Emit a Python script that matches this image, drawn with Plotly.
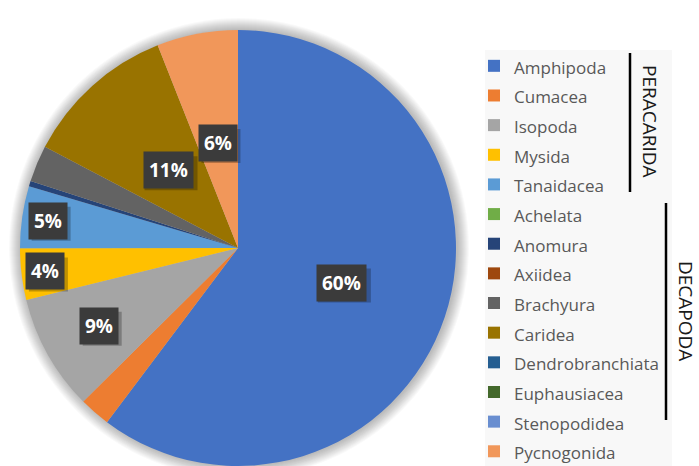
import math
import plotly.graph_objects as go

W, H = 699, 466

categories = ["Amphipoda", "Cumacea", "Isopoda", "Mysida", "Tanaidacea", "Achelata",
              "Anomura", "Axiidea", "Brachyura", "Caridea", "Dendrobranchiata",
              "Euphausiacea", "Stenopodidea", "Pycnogonida"]
values = [60.2, 2.3, 8.6, 3.8, 4.6, 0, 0.4, 0, 2.7, 11.3, 0, 0, 0, 6.0]
colors = ["#4472C4", "#ED7D31", "#A5A5A5", "#FFC000", "#5B9BD5", "#70AD47",
          "#264478", "#9E480E", "#636363", "#997300", "#255E91", "#43682B",
          "#698ED0", "#F1975A"]
# which slices carry a data label, and how far out (fraction of radius)
label_radius = [0.50, None, 0.73, 0.89, 0.88, None, None, None, None, 0.48, None, None, None, 0.49]
group_names = ["PERACARIDA", "DECAPODA"]

# pie geometry (pixels)
CX, CY, R = 238, 248, 218
dom_x = [(CX - R) / W, (CX + R) / W]
dom_y = [(H - CY - R) / H, (H - CY + R) / H]

legend_labels = ['<span style="font-size:17px">%s</span>' % c for c in categories]

fig = go.Figure()
fig.add_trace(go.Pie(
    labels=legend_labels,
    values=values,
    marker=dict(colors=colors, line=dict(width=0)),
    sort=False,
    direction="clockwise",
    rotation=0,
    textinfo="none",
    domain=dict(x=dom_x, y=dom_y),
    hovertext=categories,
    hoverinfo="text+percent",
))

shapes = []
# legend panel background
shapes.append(dict(type="rect", xref="paper", yref="paper", x0=485 / W, x1=672 / W,
                   y0=0, y1=1 - 50 / H, fillcolor="#f8f8f8", line=dict(width=0), layer="below"))
# pie shadow
for k in range(1, 13):
    shapes.append(dict(type="circle", xref="paper", yref="paper", xsizemode="pixel", ysizemode="pixel",
                       xanchor=CX / W, yanchor=(H - CY) / H,
                       x0=-R - k + 1, x1=R + k + 1, y0=-R - k, y1=R + k,
                       fillcolor="rgba(0,0,0,0.022)", line=dict(width=0), layer="below"))

# data labels
total = sum(values)
annotations = []
cum = 0.0
for cat, v, rf in zip(categories, values, label_radius):
    start = cum
    cum += v
    if rf is None:
        continue
    mid = (start + v / 2) / total * 2 * math.pi
    dx = rf * R * math.sin(mid)
    dy = rf * R * math.cos(mid)
    x = (CX + dx) / W
    y = (H - CY + dy) / H
    txt = "%d%%" % round(v / total * 100)
    bw = 14 * len(txt) + 11
    # soft drop shadow of the label box
    shapes.append(dict(type="rect", xref="paper", yref="paper", xsizemode="pixel", ysizemode="pixel",
                       xanchor=x, yanchor=y, x0=-bw / 2 + 3, x1=bw / 2 + 3, y0=-17 - 3, y1=17 - 3,
                       fillcolor="rgba(0,0,0,0.25)", line=dict(width=0), layer="above"))
    annotations.append(dict(x=x, y=y, xref="paper", yref="paper", showarrow=False,
                            xanchor="center", yanchor="middle", borderpad=5, text="<b>%s</b>" % txt,
                            font=dict(family="Open Sans", size=19, color="white"),
                            bgcolor="#3b3b3b"))

# group brackets
shapes.append(dict(type="line", xref="paper", yref="paper", x0=630 / W, x1=630 / W,
                   y0=1 - 53 / H, y1=1 - 192 / H, line=dict(color="black", width=2.5)))
shapes.append(dict(type="line", xref="paper", yref="paper", x0=666 / W, x1=666 / W,
                   y0=1 - 203 / H, y1=1 - 420 / H, line=dict(color="black", width=2.5)))
annotations.append(dict(x=650 / W, y=1 - 121 / H, xref="paper", yref="paper", text=group_names[0],
                        xanchor="center", yanchor="middle",
                        textangle=90, showarrow=False, font=dict(family="Open Sans", size=19, color="#1a1a1a")))
annotations.append(dict(x=686 / W, y=1 - 311 / H, xref="paper", yref="paper", text=group_names[1],
                        xanchor="center", yanchor="middle",
                        textangle=90, showarrow=False, font=dict(family="Open Sans", size=19, color="#1a1a1a")))

fig.update_layout(
    width=W, height=H,
    margin=dict(l=0, r=0, t=0, b=0, autoexpand=False),
    paper_bgcolor="white",
    plot_bgcolor="white",
    showlegend=True,
    legend=dict(x=474 / W, y=1 - 46 / H, xanchor="left", yanchor="top",
                bgcolor="rgba(0,0,0,0)", font=dict(family="Open Sans", size=20.5, color="#595959"),
                tracegroupgap=0),
    shapes=shapes,
    annotations=annotations,
)

fig.write_html("out.html", post_script="document.body.style.margin='0';",
               config={"displayModeBar": False})
